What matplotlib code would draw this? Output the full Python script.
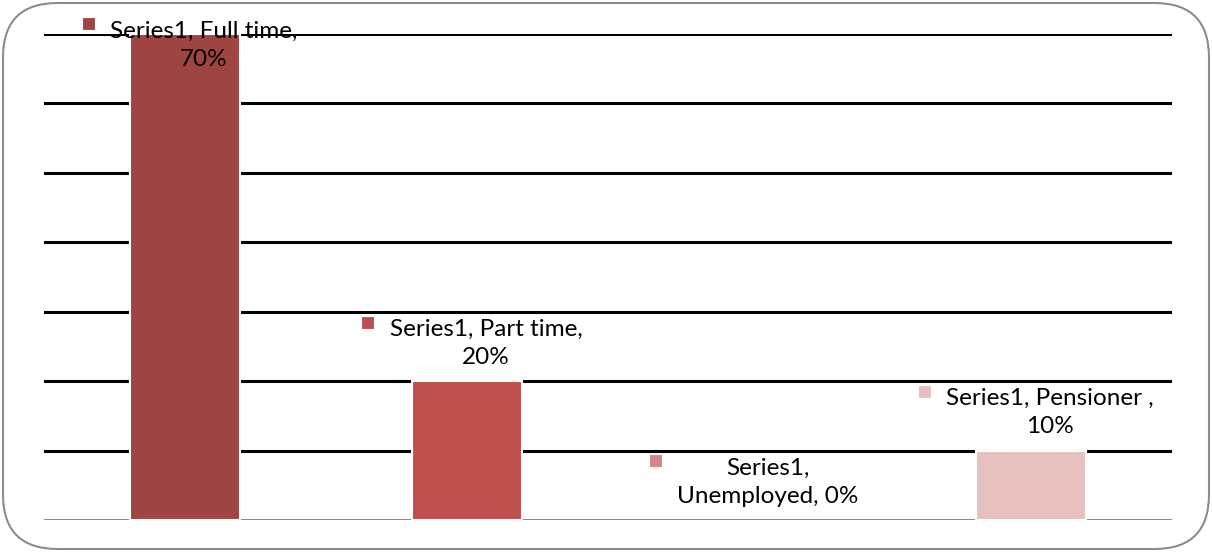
import matplotlib
matplotlib.use('Agg')
import matplotlib.pyplot as plt
from matplotlib.patches import FancyBboxPatch, Rectangle

# data
series_name = 'Series1'
categories = ['Full time', 'Part time', 'Unemployed', 'Pensioner ']
values = [70, 20, 0, 10]
bar_colors = ['#9e4543', '#c0504d', '#d38684', '#e6c1c0']
# label layout as Excel wrapped it
label_fmt = ['{s}, {c},\n{v}%', '{s}, {c},\n{v}%', '{s},\n{c}, {v}%', '{s}, {c},\n{v}%']

W, H = 1212, 552
plt.rcParams['font.family'] = ['Lato', 'DejaVu Sans']

fig = plt.figure(figsize=(W / 100, H / 100), dpi=100)
ax = fig.add_axes([44 / W, (H - 520) / H, 1128 / W, (520 - 34) / H])

# rounded chart border
border = FancyBboxPatch((3 / W, 3 / H), (W - 6) / W, (H - 6) / H,
                        boxstyle='round,pad=0,rounding_size=0.045',
                        transform=fig.transFigure, fill=False,
                        edgecolor='#8c8c8c', linewidth=1.5,
                        mutation_aspect=W / H)
fig.patches.append(border)

x = range(len(categories))
ax.bar(x, values, width=0.39, color=bar_colors, edgecolor='white',
       linewidth=[1.5 if v > 0 else 0 for v in values], zorder=3)

ax.set_xlim(-0.5, len(categories) - 0.5)
ax.set_ylim(0, 70)
for yv in range(10, 71, 10):
    ax.axhline(yv, color='black', linewidth=2.2, zorder=1)
ax.axhline(0, color='#8c8c8c', linewidth=2.2, zorder=1)

for s in ax.spines.values():
    s.set_visible(False)
ax.set_xticks([])
ax.set_yticks([])

# data labels with colour key squares
texts = []
for i, (c, v) in enumerate(zip(categories, values)):
    top = ax.transData.transform((i, v))
    cx = top[0] + 19
    cy = min(top[1] + 38, H - 45)
    t = fig.text(cx / W, cy / H, label_fmt[i].format(s=series_name, c=c, v=v),
                 ha='center', va='center', multialignment='center',
                 fontsize=17.5, color='black', linespacing=1.42, zorder=5)
    texts.append(t)

fig.canvas.draw()
r = fig.canvas.get_renderer()
for t, col in zip(texts, bar_colors):
    bb = t.get_window_extent(r)
    sq = 13
    fig.patches.append(Rectangle(((bb.x0 - 22 - sq / 2) / W, (bb.y1 - sq + 3) / H),
                                 sq / W, sq / H, transform=fig.transFigure,
                                 facecolor=col, edgecolor='white', linewidth=0.8,
                                 zorder=6))

fig.savefig('out.png', dpi=100)
